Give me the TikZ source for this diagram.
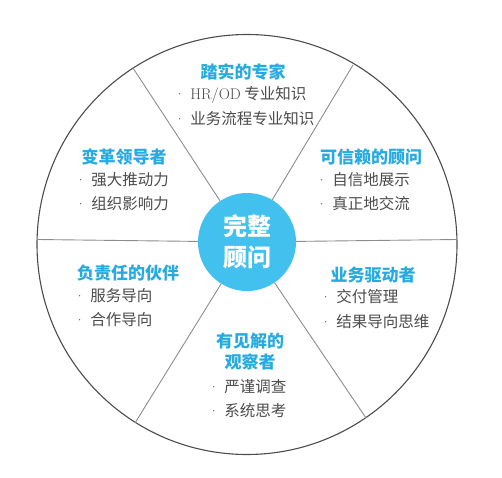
\documentclass[tikz,border=0pt]{standalone}
\usepackage{fontspec}
\newfontfamily\cjk{Noto Sans CJK SC}
\usetikzlibrary{positioning,calc}
\definecolor{hubblue}{RGB}{66,192,238}
\definecolor{titleblue}{RGB}{38,170,224}
\definecolor{itemgray}{RGB}{75,75,75}
\tikzset{
  rim/.style={draw=black!70, line width=1.1pt},
  spoke/.style={draw=black!45, line width=0.9pt},
  hub/.style={circle, fill=hubblue, minimum size=98pt, inner sep=0pt, text=white,
    font=\cjk\bfseries\fontsize{24}{31}\selectfont, align=center},
  heading/.style={text=titleblue, inner sep=0pt, align=center,
    font=\cjk\bfseries\fontsize{17}{21}\selectfont},
  point/.style={text=itemgray, inner sep=0pt, anchor=west,
    font=\cjk\fontsize{15.5}{18}\selectfont}
}
\newcommand{\dotitem}{{\rmfamily ·}\hspace{5pt}}

\begin{document}
\begin{tikzpicture}[x=1pt, y=1pt]
    \useasboundingbox (0,0) rectangle (502,477);
    \coordinate (o) at (247,232.5);

    % outer wheel and spokes
    \draw[rim] (o) circle (210);
    \coordinate (rimE)  at (457,237.5);
    \coordinate (rimNE) at (353,412);
    \coordinate (rimNW) at (133,409);
    \coordinate (rimW)  at (37,237.5);
    \coordinate (rimSW) at (135,54);
    \coordinate (rimSE) at (366,59);

    \node[hub] (hub) at (247,235) {完整\\顾问};
    \foreach \r in {E,NE,NW,W,SW,SE}
      \draw[spoke] (hub) -- (rim\r);

    % top
    \node[heading] (expert) at (243,405) {踏实的专家};
    \node[point] (expert1) at (174,382) {\dotitem{\rmfamily HR/OD} 专业知识};
    \node[point] (expert2) at (174,358) {\dotitem 业务流程专业知识};

    % upper left
    \node[heading] (leader) at (124,320) {变革领导者};
    \node[point] (leader1) at (75,297) {\dotitem 强大推动力};
    \node[point] (leader2) at (75,273) {\dotitem 组织影响力};

    % upper right
    \node[heading] (advisor) at (371,320) {可信赖的顾问};
    \node[point] (advisor1) at (316,297) {\dotitem 自信地展示};
    \node[point] (advisor2) at (316,273) {\dotitem 真正地交流};

    % lower left
    \node[heading] (partner) at (128,204) {负责任的伙伴};
    \node[point] (partner1) at (74,181) {\dotitem 服务导向};
    \node[point] (partner2) at (74,157) {\dotitem 合作导向};

    % lower right
    \node[heading] (driver) at (373,202) {业务驱动者};
    \node[point] (driver1) at (320,180) {\dotitem 交付管理};
    \node[point] (driver2) at (320,155) {\dotitem 结果导向思维};

    % bottom
    \node[heading] (observer) at (250,125) {有见解的\\观察者};
    \node[point] (observer1) at (208,90) {\dotitem 严谨调查};
    \node[point] (observer2) at (208,66) {\dotitem 系统思考};
\end{tikzpicture}
\end{document}
